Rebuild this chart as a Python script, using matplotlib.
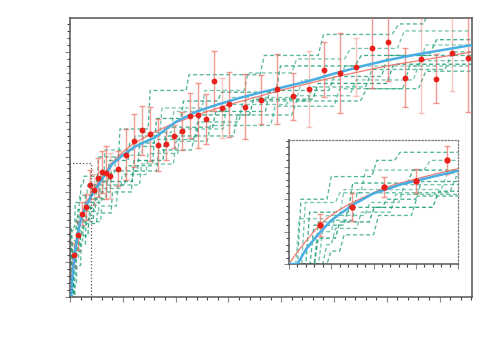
import matplotlib
matplotlib.use("Agg")
import matplotlib.pyplot as plt
import numpy as np
from matplotlib.ticker import MultipleLocator
from matplotlib.patches import Rectangle

# ---------------- data ----------------
x_obs = [0.37, 0.75, 1.12, 1.5, 1.87, 2.25, 2.62, 3.0, 3.38, 3.76,
         4.52, 5.27, 6.03, 6.79, 7.55, 8.3, 9.06, 9.82, 10.57, 11.33,
         12.08, 12.84, 13.6, 14.35, 15.1, 16.6, 18.1, 19.6, 21.1, 22.6,
         24.1, 25.6, 27.1, 28.6, 30.1, 31.7, 33.2, 34.7, 36.2, 37.7]
y_obs = [1.20, 1.76, 2.38, 2.56, 3.21, 3.07, 3.41, 3.56, 3.55, 3.47,
         3.66, 4.06, 4.47, 4.77, 4.65, 4.35, 4.36, 4.59, 4.74, 5.18,
         5.19, 5.09, 6.16, 5.39, 5.50, 5.44, 5.64, 5.93, 5.73, 5.94,
         6.49, 6.41, 6.56, 7.12, 7.29, 6.26, 6.79, 6.24, 6.96, 6.84]
y_err = [0.33, 0.42, 0.32, 0.37, 0.42, 0.45, 0.56, 0.60, 0.76, 0.65,
         0.50, 0.73, 0.77, 0.70, 0.77, 0.74, 0.46, 0.33, 0.55, 0.64,
         0.93, 0.71, 0.86, 0.86, 0.93, 0.92, 0.70, 1.00, 0.68, 1.09,
         0.79, 1.14, 0.83, 1.15, 1.12, 0.84, 1.54, 0.71, 1.07, 1.56]

# fitted curve
fit_x = [0.0, 0.1, 0.18, 0.27, 0.36, 0.46, 0.575, 0.7, 0.85, 1.0, 1.115, 1.3, 1.49,
         1.7, 1.98, 2.5, 3.0, 4.0, 5.0, 6.0, 8.0, 9.5, 12.0, 15.1, 19.9, 25.0,
         30.0, 34.0, 38.5]
fit_y = [0.0, 0.38, 0.64, 0.93, 1.2, 1.43, 1.64, 1.83, 2.02, 2.2, 2.34, 2.49, 2.62,
         2.76, 2.93, 3.2, 3.44, 3.84, 4.14, 4.38, 4.71, 4.92, 5.2, 5.5, 5.9, 6.28,
         6.6, 6.8, 7.02]

# mean of the sample curves
mean_x = [0.0, 0.1, 0.2, 0.34, 0.5, 0.75, 1.0, 1.33, 1.53, 2.0, 3.0, 4.0,
          5.0, 6.0, 7.0, 8.0, 10.0, 12.0, 14.0, 16.0, 18.0, 20.0, 22.5,
          25.0, 28.0, 30.0, 33.0, 35.0, 38.5]
mean_y = [0.0, 0.0, 0.45, 0.9, 1.35, 1.82, 2.18, 2.46, 2.59, 2.88, 3.35, 3.8,
          4.05, 4.27, 4.42, 4.55, 5.0, 5.3, 5.5, 5.68, 5.84, 5.98, 6.16,
          6.38, 6.62, 6.76, 6.94, 7.04, 7.22]

# sample curves: (x where a step starts, new level)
sample_1 = [(0.10, 2.0), (0.45, 2.7), (0.98, 3.2), (1.25, 3.45), (2.6, 4.0), (4.6, 4.8),
            (7.4, 5.9), (11.0, 6.35), (18.0, 6.9), (23.5, 7.5), (30.5, 7.8), (33.5, 8.4)]
sample_2 = [(0.15, 1.9), (0.55, 2.2), (0.85, 2.9), (1.6, 3.2), (3.2, 4.2), (6.0, 4.6),
            (8.5, 5.4), (12.5, 5.9), (16.5, 6.4), (21.0, 6.8), (26.0, 7.1), (31.0, 7.6)]
sample_3 = [(0.2, 1.6), (0.7, 2.5), (1.4, 2.9), (2.3, 3.3), (3.6, 3.9), (5.5, 4.4),
            (8.0, 5.1), (10.5, 5.6), (14.0, 5.85), (19.5, 6.6), (27.0, 6.9), (34.0, 7.35)]
sample_4 = [(0.08, 1.4), (0.4, 1.5), (0.6, 2.3), (1.8, 2.8), (2.8, 3.5), (4.2, 4.05),
            (6.8, 4.7), (9.6, 5.3), (15.0, 5.7), (21.5, 6.2), (25.5, 6.6), (33.0, 7.2)]
sample_5 = [(0.3, 1.3), (0.5, 1.35), (0.75, 2.2), (1.9, 2.7), (3.0, 3.2), (5.2, 3.75),
            (7.8, 4.5), (11.8, 5.0), (16.0, 5.6), (22.5, 6.0), (28.0, 6.5), (35.5, 7.0)]
sample_6 = [(0.25, 1.2), (0.65, 1.75), (1.1, 2.0), (1.5, 2.55), (2.4, 3.0), (3.8, 3.6),
            (6.4, 4.3), (9.0, 4.85), (13.5, 5.3), (18.5, 5.9), (24.5, 6.3), (29.5, 6.9)]
sample_7 = [(0.35, 1.0), (0.5, 1.5), (0.9, 1.9), (1.3, 2.45), (2.7, 3.1), (4.8, 3.5),
            (7.2, 4.1), (10.2, 4.8), (14.5, 5.5), (20.5, 5.75), (26.5, 6.2), (32.5, 6.75)]
sample_8 = [(0.3, 0.8), (0.55, 1.3), (0.95, 1.75), (1.7, 2.25), (2.2, 2.8), (3.4, 3.3),
            (5.9, 3.9), (8.8, 4.6), (12.0, 5.2), (17.0, 5.65), (23.0, 6.1), (30.0, 6.65)]
sample_9 = [(0.4, 0.6), (0.5, 1.1), (0.8, 1.6), (1.2, 2.15), (2.9, 2.6), (4.4, 3.2),
            (6.6, 3.8), (9.8, 4.45), (13.0, 4.9), (19.0, 5.45), (25.0, 5.95), (31.5, 6.6)]
sample_10 = [(0.45, 0.4), (0.6, 0.9), (1.0, 1.5), (1.45, 2.1), (2.5, 2.4), (3.9, 3.0),
             (5.8, 3.6), (8.2, 4.2), (11.5, 4.6), (15.5, 5.2), (21.0, 5.6), (27.5, 5.95), (33.0, 6.45)]
samples = [sample_1, sample_2, sample_3, sample_4, sample_5,
           sample_6, sample_7, sample_8, sample_9, sample_10]

# ---------------- styles ----------------
sample_alpha = [0.75, 0.6, 0.85, 0.55, 0.7, 0.8, 0.6, 0.9, 0.65, 0.75]
err_alpha = [0.7] * len(x_obs)
for i in (5, 9, 23, 29, 32, 36, 38):
    err_alpha[i] = 0.4

GREEN = "#1b9e77"
BLUE = "#4aaee3"
RED = "#e8221b"
SALMON = "#ef6f64"
SPINE = "#555555"


def staircase(steps, xmax=38.5):
    xs, ys, prev = [0.0], [0.0], 0.0
    for xs_, lv in steps:
        w = 0.04 + 0.02 * xs_
        xs += [xs_, xs_ + w]
        ys += [prev, lv]
        prev = lv
    xs.append(xmax)
    ys.append(prev)
    return xs, ys


def draw(ax, ms):
    for s, a in zip(samples, sample_alpha):
        sx, sy = staircase(s)
        ax.plot(sx, sy, ls=(0, (3.0, 2.0)), color=GREEN, lw=0.95, alpha=a, zorder=2)
    for xi, yi, ei, al in zip(x_obs, y_obs, y_err, err_alpha):
        ax.errorbar([xi], [yi], yerr=[ei], fmt="none", ecolor=SALMON, elinewidth=1.0,
                    capsize=2.5, capthick=1.0, alpha=al, zorder=3)
    ax.plot(fit_x, fit_y, color=SALMON, lw=0.9, alpha=0.9, zorder=3.5)
    ax.plot(mean_x, mean_y, color=BLUE, lw=1.8, zorder=4)
    ax.plot(x_obs, y_obs, "o", color=RED, ms=ms, mec=RED, mew=0, zorder=5)


def style(ax, xmaj, xmin, ymaj, ymin):
    ax.xaxis.set_major_locator(MultipleLocator(xmaj))
    ax.xaxis.set_minor_locator(MultipleLocator(xmin))
    ax.yaxis.set_major_locator(MultipleLocator(ymaj))
    ax.yaxis.set_minor_locator(MultipleLocator(ymin))
    ax.tick_params(which="both", direction="out", labelbottom=False, labelleft=False,
                   color="#888888", width=0.8)
    ax.tick_params(which="major", length=3.5)
    ax.tick_params(which="minor", length=2.5, color="#444444")
    for sp in ax.spines.values():
        sp.set_color(SPINE)
        sp.set_linewidth(1.1)


fig = plt.figure(figsize=(5, 3.5), dpi=100)
ax = fig.add_axes([0.14, 0.1514, 0.804, 0.7972])
draw(ax, ms=4.2)
ax.set_xlim(0, 38.07)
ax.set_ylim(0, 7.97)
style(ax, 5, 1, 1, 0.2)
ax.add_patch(Rectangle((0, 0), 2, 3.83, fill=False, ls=":", lw=0.9,
                       edgecolor="#555555", zorder=6))

axin = fig.add_axes([0.578, 0.2457, 0.338, 0.3543])
draw(axin, ms=4.6)
axin.set_xlim(0, 2)
axin.set_ylim(0, 3.83)
style(axin, 0.5, 0.1, 1, 0.2)
for side in ("top", "right"):
    axin.spines[side].set_linestyle(":")
    axin.spines[side].set_color("#777777")
    axin.spines[side].set_linewidth(0.9)

fig.savefig("out.png", dpi=100)
